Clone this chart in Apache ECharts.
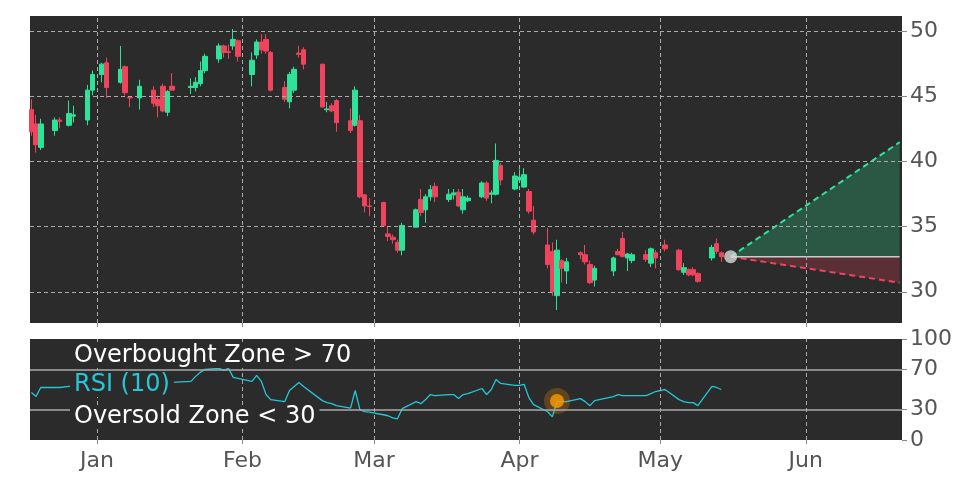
<!DOCTYPE html>
<html>
<head>
<meta charset="utf-8">
<script src="https://cdn.jsdelivr.net/npm/echarts@6/dist/echarts.min.js"></script>
<style>html,body{margin:0;padding:0;background:#fff}#main{width:972px;height:486px}</style>
</head>
<body>
<div id="main"></div>
<script>
var dates = ['2024-12-18','2024-12-19','2024-12-20','2024-12-23','2024-12-24','2024-12-26','2024-12-27','2024-12-30','2024-12-31',
 '2025-01-02','2025-01-03','2025-01-06','2025-01-07','2025-01-08','2025-01-10','2025-01-13','2025-01-14','2025-01-15','2025-01-16','2025-01-17',
 '2025-01-21','2025-01-22','2025-01-23','2025-01-24','2025-01-27','2025-01-28','2025-01-29','2025-01-30','2025-01-31',
 '2025-02-03','2025-02-04','2025-02-05','2025-02-06','2025-02-07','2025-02-10','2025-02-11','2025-02-12','2025-02-13','2025-02-14',
 '2025-02-18','2025-02-19','2025-02-20','2025-02-21','2025-02-24','2025-02-25','2025-02-26','2025-02-27','2025-02-28',
 '2025-03-03','2025-03-04','2025-03-05','2025-03-06','2025-03-07','2025-03-10','2025-03-11','2025-03-12','2025-03-13','2025-03-14',
 '2025-03-17','2025-03-18','2025-03-19','2025-03-20','2025-03-21','2025-03-24','2025-03-25','2025-03-26','2025-03-27','2025-03-28',
 '2025-03-31','2025-04-01','2025-04-02','2025-04-03','2025-04-04','2025-04-07','2025-04-08','2025-04-09','2025-04-10','2025-04-11',
 '2025-04-14','2025-04-15','2025-04-16','2025-04-17','2025-04-21','2025-04-22','2025-04-23','2025-04-24','2025-04-25',
 '2025-04-28','2025-04-29','2025-04-30','2025-05-02','2025-05-05','2025-05-06','2025-05-07','2025-05-08','2025-05-09',
 '2025-05-12','2025-05-13','2025-05-14'];
var opens = [44.0,42.9,41.1,42.4,43.2,42.8,43.5,43.2,45.5,
 46.7,47.6,46.1,47.3,44.95,44.9,45.5,44.8,45.8,43.8,45.8,
 45.7,45.7,46.0,47.0,47.9,48.9,48.45,48.9,49.3,
 46.7,48.2,49.2,49.4,48.4,45.7,44.6,45.5,48.35,48.6,
 47.5,44.0,44.3,44.7,43.15,42.8,43.15,37.45,36.6,
 36.87,34.45,34.2,33.8,33.2,34.97,37.1,36.3,37.3,38.1,
 37.1,37.45,37.65,36.3,37.0,37.3,38.36,37.5,37.5,39.7,
 37.9,38.6,38.05,37.7,35.5,33.6,33.1,29.7,32.4,31.6,
 33.0,32.85,32.1,30.9,31.6,33.1,34.1,32.6,32.4,
 32.85,32.2,33.0,33.6,33.2,31.5,31.7,31.7,31.4,
 32.6,33.7,33.0];
var closes = [42.3,41.3,42.9,43.2,43.1,43.7,43.6,45.5,46.7,
 47.5,45.7,47.1,45.3,44.9,45.8,44.5,44.3,43.9,45.4,45.5,
 45.8,46.1,47.0,48.1,48.9,48.4,48.4,49.4,48.1,
 47.8,49.2,48.6,48.5,45.5,44.8,46.7,47.1,48.25,47.5,
 44.2,44.05,43.9,43.0,42.4,45.5,37.3,36.6,36.55,
 35.08,34.25,34.0,33.2,35.1,36.3,36.1,37.3,37.85,37.3,
 37.5,37.6,36.6,37.3,37.2,38.36,37.2,37.6,40.1,38.6,
 38.9,38.8,39.0,36.2,34.6,32.1,30.0,33.2,31.8,32.3,
 32.85,32.3,30.7,31.8,32.6,32.85,32.7,32.9,32.85,
 32.5,33.3,32.6,33.3,31.7,31.85,31.3,31.3,30.8,
 33.4,33.1,32.7];
var lows = [42.0,40.7,40.9,42.0,42.6,42.7,43.0,42.8,45.1,
 46.1,44.9,46.0,45.1,44.2,44.0,44.2,43.4,43.8,43.5,45.5,
 45.2,45.4,45.8,46.8,47.6,48.0,47.9,48.6,47.7,
 45.8,47.9,48.3,48.3,45.4,44.6,44.1,45.3,48.0,47.1,
 44.2,43.8,43.8,42.3,42.2,42.7,37.2,36.1,35.8,
 35.0,33.9,33.7,33.0,32.8,34.95,35.8,35.3,37.0,36.9,
 36.9,37.1,36.5,36.0,36.9,37.2,37.0,36.8,37.4,38.2,
 37.8,38.4,38.0,36.0,34.4,31.8,29.7,28.6,30.7,30.6,
 32.5,32.1,30.6,30.4,31.2,32.8,32.7,31.6,32.2,
 32.3,31.9,31.8,33.1,31.6,31.3,31.2,31.2,30.7,
 32.4,32.9,32.3];
var highs = [44.8,43.6,43.3,43.4,43.4,44.7,44.3,45.9,47.0,
 47.6,48.0,48.9,47.4,45.0,46.3,45.8,45.1,46.0,45.5,46.8,
 46.4,46.5,47.7,48.3,49.1,49.0,49.0,50.2,49.4,
 48.4,49.4,49.8,49.8,48.5,46.2,46.9,47.3,48.9,48.8,
 47.5,44.6,44.5,44.8,44.1,45.8,43.6,37.5,37.2,
 36.9,35.0,34.4,34.0,35.3,36.4,37.9,37.5,38.2,38.4,
 37.9,37.9,37.9,37.9,37.4,38.5,38.5,37.8,41.4,39.9,
 39.2,39.4,39.5,37.9,36.6,34.9,33.8,34.0,32.5,32.6,
 33.1,33.6,32.4,32.0,32.7,33.3,34.6,33.0,33.0,
 33.2,33.4,33.2,34.0,33.3,32.2,31.8,31.9,31.5,
 33.6,34.1,33.1];
var rsi = [47,43,52,52,52,53,53,56,60,
 66,55,60,50,48,52,50,52,55,57,57,
 58,63,67,70,71,69,71,62,61,
 58,64,58,45,40,38,49,53,57,53,
 39,37,36,34,31.5,49,30,28,27.5,
 25,24,22,21,31,38,36,40,45,44,
 45,45,41,45,46,51,45,50,60,56,
 54,54,55,42,35,28,23,38,38,38,
 41,38,34,39,43,45,44,44,44,
 44,46,48,50,40,38,37,37,34,
 53,52,50];
var monthTicks = ['2025-01-01','2025-02-01','2025-03-01','2025-04-01','2025-05-01','2025-06-01'];
var monthNames = ['Jan','Feb','Mar','Apr','May','Jun'];
var lastDate = '2025-05-16', lastPrice = 32.7;
var endDate = '2025-06-21', upTarget = 41.5, downTarget = 30.7;
var rsiDot = ['2025-04-09', 38.6];

function ts(s) { return Date.parse(s + 'T00:00:00Z'); }
var xMin = ts('2024-12-17') + 17 * 3600e3, xMax = ts('2025-06-21') + 12 * 3600e3;
var candles = dates.map(function (d, i) { return [ts(d), opens[i], closes[i], lows[i], highs[i]]; });
var rsiLine = dates.map(function (d, i) { return [ts(d), rsi[i]]; });
var tickTs = monthTicks.map(ts);
var lblColor = '#555', font = 'DejaVu Sans';
var gridLine = { color: '#aaa', type: [4, 3], width: 1 };
var vLines = tickTs.map(function (t) { return { xAxis: t }; });

var chart = echarts.init(document.getElementById('main'));
chart.setOption({
  animation: false,
  backgroundColor: '#fff',
  grid: [
    { left: 30, right: 70, top: 16, height: 307, show: true, backgroundColor: '#2b2b2b', borderWidth: 0 },
    { left: 30, right: 70, top: 339, height: 101, show: true, backgroundColor: '#2b2b2b', borderWidth: 0 }
  ],
  xAxis: [
    { type: 'value', gridIndex: 0, min: xMin, max: xMax, axisLabel: { show: false }, splitLine: { show: false },
      axisLine: { show: false }, axisTick: { show: true, customValues: tickTs, length: 4, lineStyle: { color: '#888' } } },
    { type: 'value', gridIndex: 1, min: xMin, max: xMax, splitLine: { show: false }, axisLine: { show: false },
      axisTick: { show: true, customValues: tickTs, length: 4, lineStyle: { color: '#888' } },
      axisLabel: { customValues: tickTs, color: lblColor, fontSize: 22, fontFamily: font, margin: 10,
        formatter: function (v) { return monthNames[tickTs.indexOf(v)] || ''; } } }
  ],
  yAxis: [
    { type: 'value', gridIndex: 0, position: 'right', min: 27.6, max: 51.2,
      axisLabel: { color: lblColor, fontSize: 22, fontFamily: font, margin: 8, customValues: [30, 35, 40, 45, 50] },
      axisTick: { show: true, customValues: [30, 35, 40, 45, 50], lineStyle: { color: '#888' } },
      axisLine: { show: false }, splitLine: { show: false } },
    { type: 'value', gridIndex: 1, position: 'right', min: 0, max: 100,
      axisLabel: { color: lblColor, fontSize: 22, fontFamily: font, margin: 8, customValues: [0, 30, 70, 100] },
      axisTick: { show: true, customValues: [0, 30, 70, 100], lineStyle: { color: '#888' } },
      axisLine: { show: false }, splitLine: { show: false } }
  ],
  series: [
    { type: 'candlestick', xAxisIndex: 0, yAxisIndex: 0, data: candles, barWidth: 5,
      itemStyle: { color: '#2de39a', color0: '#f0435c', borderColor: '#2de39a', borderColor0: '#f0435c', borderWidth: 1 },
      markLine: { silent: true, symbol: 'none', label: { show: false }, lineStyle: gridLine,
        data: vLines.concat([30, 35, 40, 45, 50].map(function (v) { return { yAxis: v }; })) } },
    // projection
    { type: 'line', data: [[ts(lastDate), lastPrice], [ts(endDate), lastPrice]], symbol: 'none',
      lineStyle: { color: '#cccccc', width: 1.5 }, z: 4 },
    { type: 'line', data: [[ts(lastDate), lastPrice], [ts(endDate), upTarget]], symbol: 'none',
      lineStyle: { color: '#2de39a', type: [6, 4], width: 2 }, areaStyle: { color: 'rgba(45,227,154,0.35)', origin: lastPrice }, z: 3 },
    { type: 'line', data: [[ts(lastDate), lastPrice], [ts(endDate), downTarget]], symbol: 'none',
      lineStyle: { color: '#f0435c', type: [6, 4], width: 2 }, areaStyle: { color: 'rgba(240,67,92,0.35)', origin: lastPrice }, z: 3 },
    { type: 'scatter', data: [[ts(lastDate), lastPrice]], symbolSize: 13, itemStyle: { color: '#d8d8d8' }, z: 5 },
    // RSI
    { type: 'line', xAxisIndex: 1, yAxisIndex: 1, data: rsiLine, symbol: 'none',
      lineStyle: { color: '#22c7d8', width: 1.3 },
      markLine: { silent: true, symbol: 'none', label: { show: false },
        data: vLines.map(function (l) { return { xAxis: l.xAxis, lineStyle: gridLine }; })
          .concat([{ yAxis: 70, lineStyle: { color: '#aaa', type: 'solid', width: 1.5 } },
                   { yAxis: 30, lineStyle: { color: '#aaa', type: 'solid', width: 1.5 } }]) } },
    { type: 'scatter', xAxisIndex: 1, yAxisIndex: 1, data: [[ts(rsiDot[0]), rsiDot[1]]], symbolSize: 26,
      itemStyle: { color: 'rgba(255,152,0,0.3)' }, z: 4 },
    { type: 'scatter', xAxisIndex: 1, yAxisIndex: 1, data: [[ts(rsiDot[0]), rsiDot[1]]], symbolSize: 14,
      itemStyle: { color: '#ff9a00' }, z: 5 }
  ],
  graphic: [
    { type: 'text', left: 70, top: 344, z: 10, style: { text: 'Overbought Zone > 70', fill: '#fff', font: '24px DejaVu Sans',
      backgroundColor: '#2b2b2b', padding: [0, 4] } },
    { type: 'text', left: 70, top: 373, z: 10, style: { text: 'RSI (10)', fill: '#22c7d8', font: '24px DejaVu Sans',
      backgroundColor: '#2b2b2b', padding: [0, 4] } },
    { type: 'text', left: 70, top: 405, z: 10, style: { text: 'Oversold Zone < 30', fill: '#fff', font: '24px DejaVu Sans',
      backgroundColor: '#2b2b2b', padding: [0, 4] } }
  ]
});
</script>
</body>
</html>
